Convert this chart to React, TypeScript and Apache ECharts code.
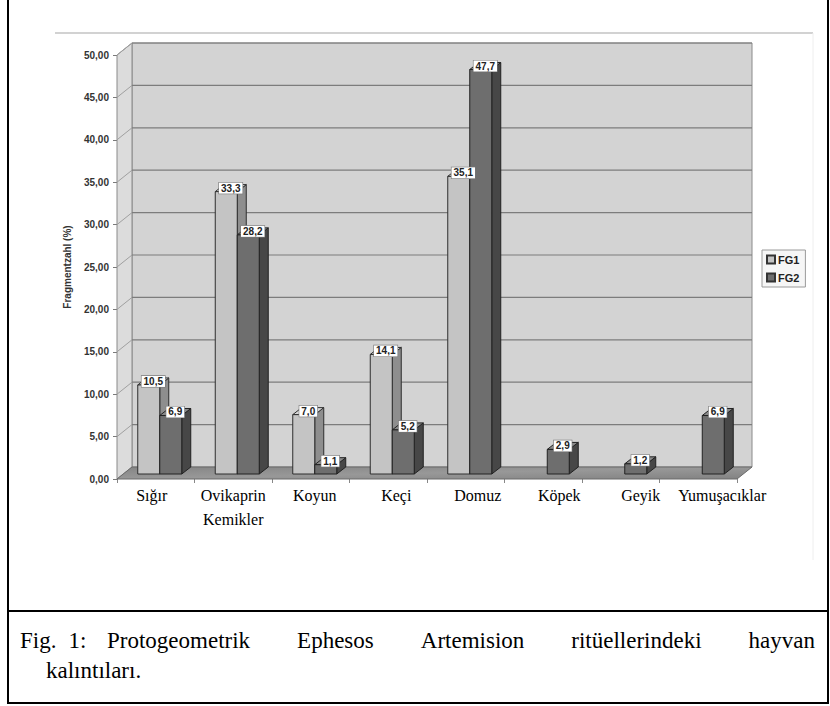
import React, { useEffect, useRef } from "react";
import * as echarts from "echarts";

// ---------- data ----------
const categories = ["Sığır", "Ovikaprin\nKemikler", "Koyun", "Keçi", "Domuz", "Köpek", "Geyik", "Yumuşacıklar"];
const fg1Values = [10.5, 33.3, 7.0, 14.1, 35.1, 0, 0, 0];
const fg2Values = [6.9, 28.2, 1.1, 5.2, 47.7, 2.9, 1.2, 6.9];
const seriesNames = ["FG1", "FG2"];
const yTicks = [0, 5, 10, 15, 20, 25, 30, 35, 40, 45, 50];
const yAxisTitle = "Fragmentzahl (%)";
const captionHead = ["Fig.", "1:"];
const captionWords = ["Protogeometrik", "Ephesos", "Artemision", "ritüellerindeki", "hayvan"];
const captionLine2 = "kalıntıları.";

// ---------- styling / geometry ----------
const W = 830;
const H = 706;
const GRID = { left: 117, top: 55, width: 620, height: 424 };
const DX = 15; // wall depth
const DY = 12;
const BOX = 4; // bar front offset from front plane
const BOY = 5;
const BW = 22; // bar front width
const BDX = 9; // bar depth
const BDY = 7;
const LABEL_SPREAD = 4; // category text (typed in the document) drifts right of the bars
const SERIES_STYLE = [
  { front: "#c4c4c4", side: "#8e8e8e", top: "#d8d8d8", stroke: "#2e2e2e" },
  { front: "#6e6e6e", side: "#474747", top: "#8a8a8a", stroke: "#222222" },
];
const CAPTION_FONT = "23px 'Liberation Serif'";

const fmtLabel = (v: number) => v.toFixed(1).replace(".", ",");

export default function App() {
  const ref = useRef<HTMLDivElement>(null);

  useEffect(() => {
    document.body.style.margin = "0";
    if (!ref.current) return;
    const chart = echarts.init(ref.current, null, { renderer: "svg" });

    // measure caption words for justified layout
    const cv = document.createElement("canvas");
    const ctx = cv.getContext("2d")!;
    ctx.font = CAPTION_FONT;
    const mw = (s: string) => ctx.measureText(s).width;
    const tabX = 107;
    const rightX = 815;
    const wordsW = captionWords.reduce((a, w) => a + mw(w), 0);
    const gap = (rightX - tabX - wordsW) / (captionWords.length - 1);
    const line1Y = 640;
    const line2Y = 670;
    const captionEls: any[] = [];
    let hx = 20;
    captionHead.forEach((w) => {
      captionEls.push({ type: "text", x: hx, y: line1Y, style: { text: w, font: CAPTION_FONT, fill: "#000", verticalAlign: "middle" } });
      hx += mw(w) + 12;
    });
    let cx = tabX;
    captionWords.forEach((w) => {
      captionEls.push({ type: "text", x: cx, y: line1Y, style: { text: w, font: CAPTION_FONT, fill: "#000", verticalAlign: "middle" } });
      cx += mw(w) + gap;
    });
    captionEls.push({ type: "text", x: 46, y: line2Y, style: { text: captionLine2, font: CAPTION_FONT, fill: "#000", verticalAlign: "middle" } });

    // category label rich styles (small horizontal drift per label)
    const rich: any = {};
    categories.forEach((_, i) => {
      const s = LABEL_SPREAD * i - 4;
      rich["c" + i] = {
        fontFamily: "'Liberation Serif'",
        fontSize: 16,
        lineHeight: 24,
        color: "#000",
        padding: s >= 0 ? [0, 0, 0, 2 * s] : [0, -2 * s, 0, 0],
      };
    });

    const frameRender = (params: any, api: any) => {
      const band = api.size([1, 0])[0];
      const x0 = api.coord([0, 0])[0] - band / 2;
      const x1 = api.coord([categories.length - 1, 0])[0] + band / 2;
      const yv = (v: number) => api.coord([0, v])[1];
      const y0 = yv(yTicks[0]);
      const yT = yv(yTicks[yTicks.length - 1]);
      const children: any[] = [];
      children.push({
        type: "polygon",
        shape: { points: [[x0 + DX, yT - DY], [x1 + DX, yT - DY], [x1 + DX, y0 - DY], [x0 + DX, y0 - DY]] },
        style: { fill: "#d3d3d3", stroke: "#8a8a8a", lineWidth: 1 },
      });
      children.push({
        type: "polygon",
        shape: { points: [[x0, yT], [x0 + DX, yT - DY], [x0 + DX, y0 - DY], [x0, y0]] },
        style: { fill: "#dcdcdc", stroke: "#8a8a8a", lineWidth: 1 },
      });
      yTicks.slice(1).forEach((t) => {
        const y = yv(t);
        children.push({
          type: "line",
          shape: { x1: x0 + DX, y1: y - DY, x2: x1 + DX, y2: y - DY },
          style: { stroke: "#7c7c7c", lineWidth: 1.2 },
        });
        children.push({
          type: "line",
          shape: { x1: x0, y1: y, x2: x0 + DX, y2: y - DY },
          style: { stroke: "#a0a0a0", lineWidth: 1 },
        });
      });
      children.push({
        type: "polygon",
        shape: { points: [[x0, y0], [x1, y0], [x1 + DX, y0 - DY], [x0 + DX, y0 - DY]] },
        style: {
          fill: new echarts.graphic.LinearGradient(0, 0, 1, 1, [
            { offset: 0, color: "#858585" },
            { offset: 0.5, color: "#989898" },
            { offset: 1, color: "#828282" },
          ]),
          stroke: "#6a6a6a",
          lineWidth: 1,
        },
      });
      return { type: "group", children };
    };

    const barRender = (s: number) => (params: any, api: any) => {
      const idx = api.value(0);
      const v = api.value(1);
      if (!v) return null;
      const c = api.coord([idx, v]);
      const b = api.coord([idx, 0]);
      const st = SERIES_STYLE[s];
      const xl = c[0] + BOX - (s === 0 ? BW : 0);
      const xr = xl + BW;
      const yt = c[1] - BOY;
      const yb = b[1] - BOY;
      return {
        type: "group",
        children: [
          {
            type: "polygon",
            shape: { points: [[xr, yt], [xr + BDX, yt - BDY], [xr + BDX, yb - BDY], [xr, yb]] },
            style: { fill: st.side, stroke: st.stroke, lineWidth: 1 },
          },
          {
            type: "polygon",
            shape: { points: [[xl, yt], [xr, yt], [xr + BDX, yt - BDY], [xl + BDX, yt - BDY]] },
            style: { fill: st.top, stroke: st.stroke, lineWidth: 1 },
          },
          {
            type: "rect",
            shape: { x: xl, y: yt, width: BW, height: yb - yt },
            style: { fill: st.front, stroke: st.stroke, lineWidth: 1 },
          },
        ],
      };
    };

    const labelData: number[][] = [];
    fg1Values.forEach((v, i) => labelData.push([i, v, 0]));
    fg2Values.forEach((v, i) => labelData.push([i, v, 1]));

    const labelRender = (params: any, api: any) => {
      const idx = api.value(0);
      const v = api.value(1);
      const s = api.value(2);
      if (!v) return null;
      const c = api.coord([idx, v]);
      const xl = c[0] + BOX - (s === 0 ? BW : 0);
      return {
        type: "text",
        x: xl + BW / 2 + BDX / 2,
        y: c[1] - BOY - BDY / 2,
        style: {
          text: fmtLabel(v),
          font: "bold 10px Arial",
          fill: "#222",
          align: "center",
          verticalAlign: "middle",
          backgroundColor: "#ffffff",
          borderColor: "#777",
          borderWidth: 0.6,
          padding: [1, 2, 0, 2],
        },
      };
    };

    chart.setOption({
      animation: false,
      backgroundColor: "#ffffff",
      grid: { left: GRID.left, top: GRID.top, width: GRID.width, height: GRID.height, containLabel: false },
      legend: {
        data: seriesNames,
        orient: "vertical",
        left: 762,
        top: 250,
        icon: "rect",
        itemWidth: 8,
        itemHeight: 8,
        itemGap: 7,
        padding: [4, 6, 4, 4],
        borderColor: "#9a9a9a",
        borderWidth: 1,
        backgroundColor: "#f6f6f6",
        textStyle: { fontFamily: "Arial", fontWeight: "bold", fontSize: 11, color: "#222", padding: [0, 0, 0, -2] },
      },
      xAxis: {
        type: "category",
        data: categories,
        axisLine: { show: false },
        axisTick: { show: true, length: 4, lineStyle: { color: "#888" } },
        axisLabel: {
          interval: 0,
          margin: 4,
          fontFamily: "'Liberation Serif'",
          fontSize: 16,
          lineHeight: 24,
          color: "#000",
          formatter: (val: string, i: number) =>
            val
              .split("\n")
              .map((l) => `{c${i}|${l}}`)
              .join("\n"),
          rich,
        },
        splitLine: { show: false },
      },
      yAxis: {
        type: "value",
        min: yTicks[0],
        max: yTicks[yTicks.length - 1],
        interval: yTicks[1] - yTicks[0],
        name: yAxisTitle,
        nameLocation: "middle",
        nameGap: 45,
        nameTextStyle: { fontFamily: "Arial", fontWeight: "bold", fontSize: 10, color: "#333" },
        axisLine: { show: true, lineStyle: { color: "#7a7a7a" } },
        axisTick: { show: true, length: 4, lineStyle: { color: "#7a7a7a" } },
        axisLabel: {
          margin: 8,
          fontFamily: "Arial",
          fontWeight: "bold",
          fontSize: 10,
          color: "#333",
          formatter: (v: number) => v.toFixed(2).replace(".", ","),
        },
        splitLine: { show: false },
      },
      series: [
        {
          type: "custom",
          name: "frame",
          coordinateSystem: "cartesian2d",
          data: [[0, 0]],
          renderItem: frameRender,
          silent: true,
          clip: false,
          z: 1,
        },
        {
          type: "custom",
          name: seriesNames[0],
          coordinateSystem: "cartesian2d",
          data: fg1Values.map((v, i) => [i, v]),
          renderItem: barRender(0),
          itemStyle: { color: SERIES_STYLE[0].front, borderColor: "#333", borderWidth: 1 },
          clip: false,
          z: 3,
        },
        {
          type: "custom",
          name: seriesNames[1],
          coordinateSystem: "cartesian2d",
          data: fg2Values.map((v, i) => [i, v]),
          renderItem: barRender(1),
          itemStyle: { color: SERIES_STYLE[1].front, borderColor: "#333", borderWidth: 1 },
          clip: false,
          z: 3,
        },
        {
          type: "custom",
          name: "labels",
          coordinateSystem: "cartesian2d",
          data: labelData,
          renderItem: labelRender,
          clip: false,
          silent: true,
          z: 6,
        },
      ],
      graphic: [
        {
          type: "line",
          shape: { x1: 55, y1: 33, x2: 813, y2: 33 },
          style: { stroke: "#d2d2d2", lineWidth: 2 },
          z: 0,
        },
        {
          type: "line",
          shape: { x1: 813, y1: 33, x2: 813, y2: 560 },
          style: { stroke: "#eeeeee", lineWidth: 1 },
          z: 0,
        },
        {
          type: "rect",
          shape: { x: 8, y: -3, width: 820, height: 706 },
          style: { fill: "none", stroke: "#000", lineWidth: 2 },
          z: 10,
        },
        {
          type: "line",
          shape: { x1: 8, y1: 611, x2: 828, y2: 611 },
          style: { stroke: "#000", lineWidth: 2 },
          z: 10,
        },
        ...captionEls,
      ],
    });

    return () => chart.dispose();
  }, []);

  return <div ref={ref} style={{ width: W, height: H }} />;
}
